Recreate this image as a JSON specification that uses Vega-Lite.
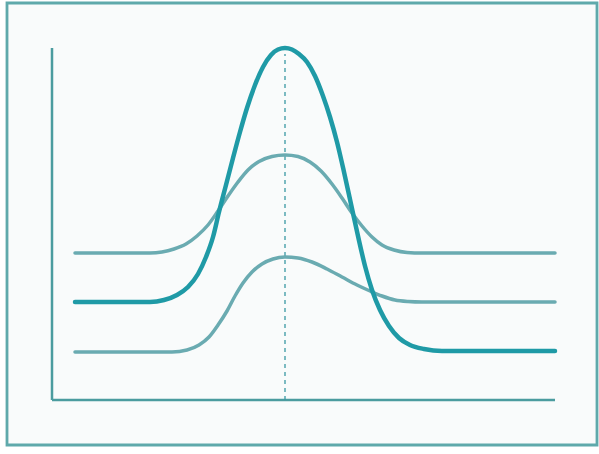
{
  "$schema": "https://vega.github.io/schema/vega-lite/v6.json",
  "autosize": {"type": "none"},
  "padding": {"left": 7, "top": 3, "right": 2, "bottom": 9},
  "width": 590,
  "height": 442,
  "background": "#ffffff",
  "config": {
    "view": {"stroke": "#5fa9ab", "strokeWidth": 2.8, "fill": "#f9fbfb"}
  },
  "datasets": {
    "curves": [
      {"series": "upper", "t": 23, "v": 147},
      {"series": "upper", "t": 98, "v": 147},
      {"series": "upper", "t": 110, "v": 148},
      {"series": "upper", "t": 122, "v": 151},
      {"series": "upper", "t": 134, "v": 156},
      {"series": "upper", "t": 145, "v": 164},
      {"series": "upper", "t": 156, "v": 175},
      {"series": "upper", "t": 166, "v": 189},
      {"series": "upper", "t": 176, "v": 204},
      {"series": "upper", "t": 186, "v": 218},
      {"series": "upper", "t": 196, "v": 230},
      {"series": "upper", "t": 207, "v": 238.5},
      {"series": "upper", "t": 220, "v": 243.5},
      {"series": "upper", "t": 233, "v": 245},
      {"series": "upper", "t": 246, "v": 243.5},
      {"series": "upper", "t": 258, "v": 238},
      {"series": "upper", "t": 269, "v": 229},
      {"series": "upper", "t": 280, "v": 216},
      {"series": "upper", "t": 290, "v": 202},
      {"series": "upper", "t": 300, "v": 187},
      {"series": "upper", "t": 310, "v": 174},
      {"series": "upper", "t": 320, "v": 163},
      {"series": "upper", "t": 330, "v": 155},
      {"series": "upper", "t": 342, "v": 150},
      {"series": "upper", "t": 355, "v": 147.5},
      {"series": "upper", "t": 370, "v": 147},
      {"series": "upper", "t": 503, "v": 147},
      {"series": "lower", "t": 23, "v": 48},
      {"series": "lower", "t": 120, "v": 48},
      {"series": "lower", "t": 135, "v": 50},
      {"series": "lower", "t": 147, "v": 55},
      {"series": "lower", "t": 157, "v": 63},
      {"series": "lower", "t": 166, "v": 75},
      {"series": "lower", "t": 175, "v": 89},
      {"series": "lower", "t": 183, "v": 104},
      {"series": "lower", "t": 191, "v": 117},
      {"series": "lower", "t": 200, "v": 128},
      {"series": "lower", "t": 210, "v": 136},
      {"series": "lower", "t": 221, "v": 141},
      {"series": "lower", "t": 233, "v": 143},
      {"series": "lower", "t": 246, "v": 142},
      {"series": "lower", "t": 260, "v": 138},
      {"series": "lower", "t": 275, "v": 131},
      {"series": "lower", "t": 290, "v": 123},
      {"series": "lower", "t": 305, "v": 115},
      {"series": "lower", "t": 318, "v": 109},
      {"series": "lower", "t": 330, "v": 104},
      {"series": "lower", "t": 343, "v": 100},
      {"series": "lower", "t": 356, "v": 98.5},
      {"series": "lower", "t": 370, "v": 98},
      {"series": "lower", "t": 503, "v": 98},
      {"series": "main", "t": 23, "v": 98},
      {"series": "main", "t": 98, "v": 98},
      {"series": "main", "t": 112, "v": 100},
      {"series": "main", "t": 125, "v": 105},
      {"series": "main", "t": 136, "v": 113},
      {"series": "main", "t": 146, "v": 126},
      {"series": "main", "t": 154, "v": 143},
      {"series": "main", "t": 161, "v": 163},
      {"series": "main", "t": 167, "v": 188},
      {"series": "main", "t": 174, "v": 215},
      {"series": "main", "t": 181, "v": 242},
      {"series": "main", "t": 188, "v": 268},
      {"series": "main", "t": 195, "v": 292},
      {"series": "main", "t": 203, "v": 315},
      {"series": "main", "t": 211, "v": 333},
      {"series": "main", "t": 219, "v": 345},
      {"series": "main", "t": 226, "v": 350.5},
      {"series": "main", "t": 233, "v": 352},
      {"series": "main", "t": 240, "v": 350.5},
      {"series": "main", "t": 247, "v": 346},
      {"series": "main", "t": 255, "v": 338},
      {"series": "main", "t": 263, "v": 324},
      {"series": "main", "t": 271, "v": 304},
      {"series": "main", "t": 278, "v": 283},
      {"series": "main", "t": 285, "v": 258},
      {"series": "main", "t": 292, "v": 228},
      {"series": "main", "t": 299, "v": 196},
      {"series": "main", "t": 306, "v": 164},
      {"series": "main", "t": 313, "v": 134},
      {"series": "main", "t": 320, "v": 110},
      {"series": "main", "t": 328, "v": 90},
      {"series": "main", "t": 337, "v": 74},
      {"series": "main", "t": 347, "v": 62},
      {"series": "main", "t": 358, "v": 55},
      {"series": "main", "t": 372, "v": 51},
      {"series": "main", "t": 390, "v": 49},
      {"series": "main", "t": 503, "v": 49}
    ]
  },
  "encoding": {
    "x": {"type": "quantitative", "scale": {"domain": [-45, 545], "nice": false, "zero": false}, "axis": null},
    "y": {"type": "quantitative", "scale": {"domain": [-45, 397], "nice": false, "zero": false}, "axis": null}
  },
  "layer": [
    {
      "data": {"values": [{"x0": 0, "y0": 0, "x1": 0, "y1": 352}, {"x0": 0, "y0": 0, "x1": 503, "y1": 0}]},
      "mark": {"type": "rule", "color": "#4b9c9f", "strokeWidth": 2.5},
      "encoding": {
        "x": {"field": "x0", "type": "quantitative"},
        "y": {"field": "y0", "type": "quantitative"},
        "x2": {"field": "x1"},
        "y2": {"field": "y1"}
      }
    },
    {
      "data": {"values": [{"t": 233, "v0": 0, "v1": 346}]},
      "mark": {"type": "rule", "color": "#3a98a3", "strokeWidth": 1.3, "strokeDash": [4, 4]},
      "encoding": {
        "x": {"field": "t", "type": "quantitative"},
        "y": {"field": "v0", "type": "quantitative"},
        "y2": {"field": "v1"}
      }
    },
    {
      "data": {"name": "curves"},
      "transform": [{"filter": "datum.series !== 'main'"}],
      "mark": {"type": "line", "interpolate": "monotone", "strokeWidth": 3.5, "strokeCap": "round", "color": "#6aabb1"},
      "encoding": {
        "x": {"field": "t", "type": "quantitative"},
        "y": {"field": "v", "type": "quantitative"},
        "detail": {"field": "series"}
      }
    },
    {
      "data": {"name": "curves"},
      "transform": [{"filter": "datum.series === 'main'"}],
      "mark": {"type": "line", "interpolate": "monotone", "strokeWidth": 4.5, "strokeCap": "round", "color": "#1f9aa6"},
      "encoding": {
        "x": {"field": "t", "type": "quantitative"},
        "y": {"field": "v", "type": "quantitative"}
      }
    }
  ]
}
